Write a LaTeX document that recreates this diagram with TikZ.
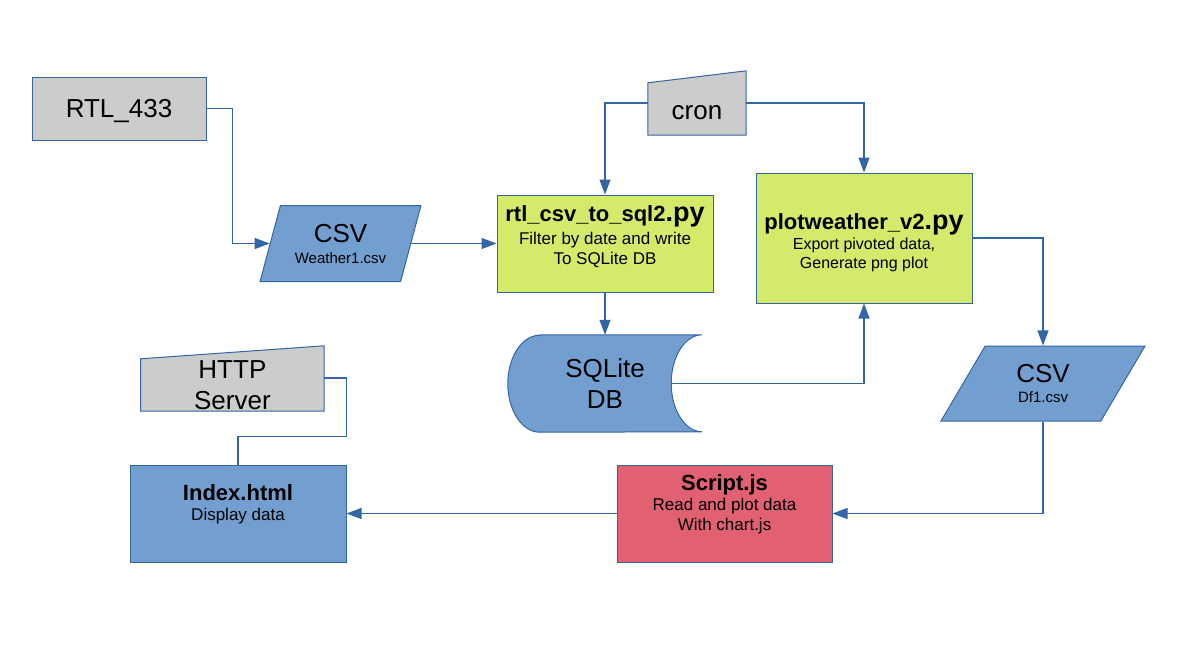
\documentclass[tikz,border=0pt]{standalone}
\usepackage{fontspec}
\setmainfont{Liberation Sans}
\usetikzlibrary{shapes.geometric,arrows.meta,backgrounds}

\definecolor{edge}{HTML}{3465A4}
\definecolor{grayfill}{HTML}{CCCCCC}
\definecolor{bluefill}{HTML}{729FCF}
\definecolor{limefill}{HTML}{D4EA6B}
\definecolor{redfill}{HTML}{E16173}

\tikzstyle{arrow}=[draw=edge, line width=1.1pt, -{Triangle[length=15pt,width=11pt]}]
\tikzstyle{link}=[draw=edge, line width=1.1pt]
\tikzstyle{box}=[draw=edge, line width=1pt, align=center, inner sep=0pt, minimum width=216pt, minimum height=97pt, font=\fontsize{17}{20}\selectfont]
\tikzstyle{bigtext}=[align=center, inner sep=0pt, font=\fontsize{26}{31}\selectfont]
\tikzstyle{datafile}=[trapezium, trapezium stretches=true, draw=edge, line width=1pt, fill=bluefill, align=center, inner sep=0pt, font=\fontsize{15}{21}\selectfont]
\tikzstyle{shapeline}=[draw=edge, line width=1pt]

\newcommand{\boxtitle}[1]{{\fontsize{22}{26}\selectfont\bfseries #1}}
\newcommand{\pyext}{{\fontsize{27}{32}\selectfont\bfseries .py}}
\newcommand{\bigcsv}{{\fontsize{26}{31}\selectfont CSV}}

\begin{document}
\begin{tikzpicture}[x=1pt, y=-1pt]
\useasboundingbox (0,0) rectangle (1191,670);

% sources
\node[bigtext, draw=edge, line width=1pt, fill=grayfill, minimum width=174pt, minimum height=63pt, text height=18pt, text depth=0pt] (rtl433) at (119,108.5) {RTL\_433};
\node[datafile, trapezium left angle=68.5, trapezium right angle=111.5, minimum width=161pt, minimum height=76pt] (csvA) at (340.5,243.5) {\bigcsv\\ Weather1.csv};
\node[bigtext, minimum width=98pt, minimum height=52pt, text height=20pt, text depth=0pt] (cron) at (697,109) {cron};

% python scripts
\node[box, fill=limefill] (rtlsql) at (605,243.5) {\boxtitle{rtl\_csv\_to\_sql2\pyext}\\[3pt] Filter by date and write\\ To SQLite DB\rule[-16pt]{0pt}{0pt}};
\node[box, fill=limefill, minimum height=130pt, font=\fontsize{16}{19}\selectfont] (plotw) at (864,238) {\rule{0pt}{26pt}\boxtitle{plotweather\_v2\pyext}\\[1pt] Export pivoted data,\\ Generate png plot};
\node[bigtext, minimum width=194pt, minimum height=97pt] (db) at (605,383.5) {SQLite\\ DB};
\node[datafile, trapezium left angle=61.9, trapezium right angle=118.1, minimum width=206pt, minimum height=75pt] (csvB) at (1043,383.5) {\bigcsv\\[-1pt] Df1.csv};

% web side
\node[box, fill=redfill, minimum width=215pt] (script) at (724.5,513.5) {\boxtitle{Script.js}\\ Read and plot data\\ With chart.js\rule[-22pt]{0pt}{0pt}};
\node[box, fill=bluefill] (index) at (238,513.5) {\boxtitle{Index.html}\\ Display data\rule[-22pt]{0pt}{0pt}};
\node[bigtext, minimum width=183pt, minimum height=52pt] (http) at (232.4,385) {HTTP\\ Server};

% shapes behind the text
\begin{scope}[on background layer]
\fill[white] (0,0) rectangle (1191,670);
\filldraw[shapeline, fill=grayfill] (cron.south west) -- (cron.south east) -- ([yshift=12pt]cron.north east) -- (cron.north west) -- cycle;
\filldraw[shapeline, fill=grayfill] (http.south west) -- (http.south east) -- ([yshift=13pt]http.north east) -- (http.north west) -- cycle;
\filldraw[shapeline, fill=bluefill] ([xshift=32pt]db.north west) -- (db.north east) arc[start angle=270, end angle=90, x radius=31, y radius=48.5] -- ([xshift=32pt]db.south west) arc[start angle=90, end angle=270, x radius=32, y radius=48.5] -- cycle;
\end{scope}

\draw [arrow] (rtl433.east) -- ++(26,0) |- (csvA.left side);
\draw [arrow] (csvA.right side) -- (rtlsql.west);
\draw [arrow] ([yshift=6pt]cron.west) -| (rtlsql.north);
\draw [arrow] ([yshift=6pt]cron.east) -| (plotw.north);
\draw [arrow] (rtlsql.south) -- (db.north);
\draw [arrow] ([xshift=-31pt]db.east) -| (plotw.south);
\draw [arrow] (plotw.east) -| (csvB.north);
\draw [arrow] (csvB.south) |- (script.east);
\draw [arrow] (script.west) -- (index.east);
\draw [link] ([yshift=7pt]http.east) -| ([yshift=28pt]index.north east) -| (index.north);

\end{tikzpicture}
\end{document}
